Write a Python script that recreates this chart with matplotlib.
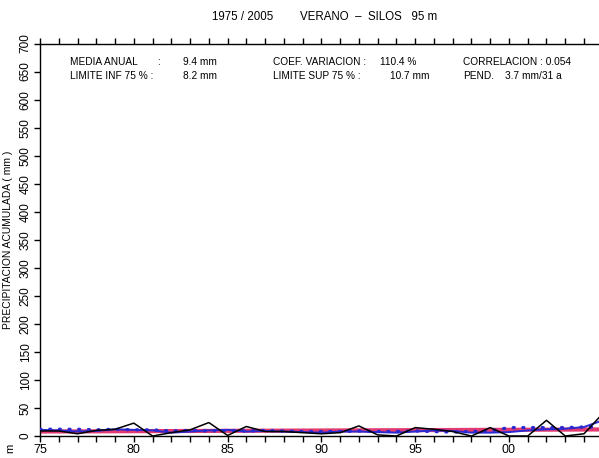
import matplotlib
matplotlib.use("Agg")
import matplotlib.pyplot as plt
import numpy as np

plt.rcParams["font.family"] = ["Liberation Sans", "DejaVu Sans"]

years = np.arange(1975, 2006)

# summer precipitation (mm)
precip = [9, 9, 4, 10, 12, 23, 0, 6, 11, 24, 1, 17, 8, 8, 6, 4,
          6, 18, 2, 0, 15, 12, 8, 0, 15, 0, 0, 28, 0, 4, 40]
# smoothed series
smooth = [11, 10, 8, 9, 12, 11, 10, 6, 8, 10, 11, 8, 9, 8, 7, 6,
          8, 8, 7, 6, 8, 10, 9, 6, 6, 7, 10, 12, 13, 16, 28]
mean_dots = [12, 12, 12, 11, 12, 11, 11, 9, 10, 9, 10, 9, 10, 9, 8, 8,
             8, 9, 8, 8, 9, 8, 7, 8, 9, 15, 15, 15, 15, 16, 16]
trend_ends = [8.0, 11.7]

x_ticks = [1975, 1980, 1985, 1990, 1995, 2000]
x_labels = ["75", "80", "85", "90", "95", "00"]
y_ticks = np.arange(0, 701, 50)

fig = plt.figure(figsize=(5.99, 4.58), dpi=100)
ax = fig.add_axes([0.0668, 0.048, 0.9332, 0.857])

ax.plot([1975, 2005], trend_ends, color="#e43a72", lw=3.0, solid_capstyle="butt", zorder=2)
ax.plot(years, smooth, color="#2a2ad0", lw=1.4, zorder=3)
ax.plot(years, mean_dots, color="#2a2ad0", lw=2.4, ls=(0, (0.3, 2.6)),
        dash_capstyle="round", zorder=3)
ax.plot(years, precip, color="black", lw=1.1, zorder=4)

ax.set_xlim(1975, 2004.8)
ax.set_ylim(0, 700)

ax.spines["right"].set_visible(False)
for s in ["left", "bottom", "top"]:
    ax.spines[s].set_linewidth(1.0)

ax.set_xticks(x_ticks)
ax.set_xticklabels(x_labels, fontsize=9)
ax.set_xticks(years[:-1], minor=True)
ax.tick_params(axis="x", which="both", direction="out", length=4, width=1, pad=2,
               top=True, labeltop=False)

ax.set_yticks(y_ticks)
ax.set_yticklabels([str(v) for v in y_ticks], rotation=90, va="center", fontsize=8.5)
ax.tick_params(axis="y", direction="out", length=4, width=1, pad=2)

ax.set_ylabel("PRECIPITACION ACUMULADA ( mm )", fontsize=7.4, labelpad=2)
ax.yaxis.set_label_coords(-0.048, 0.5)

fig.text(0.354, 0.962, "1975 / 2005", ha="left", va="center", fontsize=8.3)
fig.text(0.501, 0.962, "VERANO  –  SILOS   95 m", ha="left", va="center", fontsize=8.3)

# statistics block
rows = [0.865, 0.834]
fs = 7.3
fig.text(0.117, rows[0], "MEDIA ANUAL", fontsize=fs, va="center")
fig.text(0.262, rows[0], ":", fontsize=fs, va="center")
fig.text(0.306, rows[0], "9.4 mm", fontsize=fs, va="center")
fig.text(0.117, rows[1], "LIMITE INF 75 % :", fontsize=fs, va="center")
fig.text(0.306, rows[1], "8.2 mm", fontsize=fs, va="center")
fig.text(0.456, rows[0], "COEF. VARIACION :", fontsize=fs, va="center")
fig.text(0.634, rows[0], "110.4 %", fontsize=fs, va="center")
fig.text(0.456, rows[1], "LIMITE SUP 75 % :", fontsize=fs, va="center")
fig.text(0.651, rows[1], "10.7 mm", fontsize=fs, va="center")
fig.text(0.773, rows[0], "CORRELACION : 0.054", fontsize=fs, va="center")
fig.text(0.773, rows[1], "PEND.", fontsize=fs, va="center")
fig.text(0.843, rows[1], "3.7 mm/31 a", fontsize=fs, va="center")

fig.text(0.017, 0.02, "m", rotation=90, fontsize=8, ha="center", va="center")

fig.savefig("out.png", dpi=100)
